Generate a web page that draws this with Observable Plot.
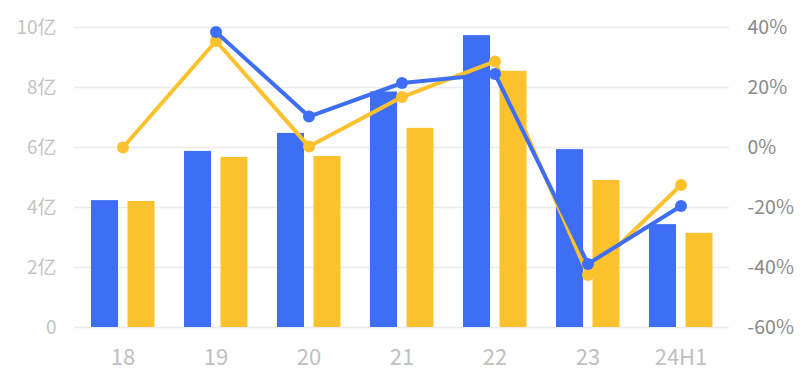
<!DOCTYPE html>
<html>
<head>
<meta charset="utf-8">
<script src="https://cdn.jsdelivr.net/npm/d3@7"></script>
<script src="https://cdn.jsdelivr.net/npm/@observablehq/plot@0.6"></script>
<style>
  html, body { margin: 0; padding: 0; background: #fff; }
  #chart svg { display: block; }
</style>
</head>
<body>
<div id="chart"></div>
<script>
// Periods on the x axis
const periods = ["18", "19", "20", "21", "22", "23", "24H1"];
// Amounts in 亿 (left axis)
const blueAmount = [4.23, 5.87, 6.47, 7.85, 9.73, 5.93, 3.43];
const yellowAmount = [4.20, 5.67, 5.70, 6.64, 8.54, 4.90, 3.14];
// Growth rates in % (right axis)
const blueGrowth = [null, 38.5, 10.3, 21.5, 24.5, -38.8, -19.5];
const yellowGrowth = [0, 35.5, 0.3, 16.8, 28.7, -42.5, -12.5];
// Tick labels
const leftTicks = [0, 2, 4, 6, 8, 10];
const rightTicks = [-60, -40, -20, 0, 20, 40];

const BLUE = "#3e6ef5";
const YELLOW = "#fcc22e";

// Percent axis shares the amount scale: -60% ↔ 0, 40% ↔ 10
const pctToY = p => (p + 60) / 10;

const rows = periods.map((p, i) => ({
  period: p,
  blue: blueAmount[i],
  yellow: yellowAmount[i],
  blueG: blueGrowth[i] == null ? null : pctToY(blueGrowth[i]),
  yellowG: pctToY(yellowGrowth[i])
}));

const chart = Plot.plot({
  width: 802,
  height: 372,
  marginTop: 27,
  marginBottom: 45,
  marginLeft: 74,
  marginRight: 73,
  style: { fontFamily: "'Noto Sans CJK SC', 'Noto Sans', sans-serif", background: "#fff" },
  x: { domain: periods, paddingInner: 0.711, paddingOuter: 0.358, align: 0.5, label: null },
  y: { domain: [0, 10], label: null },
  marks: [
    Plot.ruleY(leftTicks, { stroke: "#ececec", strokeWidth: 1.5 }),
    Plot.axisY(leftTicks, {
      anchor: "left", tickSize: 0, tickPadding: 18, fontSize: 19, label: null,
      color: "#c3c3c3", tickFormat: d => d === 0 ? "0" : `${d}亿`
    }),
    Plot.axisY(rightTicks.map(pctToY), {
      anchor: "right", tickSize: 0, tickPadding: 18, fontSize: 19.5, label: null,
      color: "#8a8a8a", tickFormat: d => `${Math.round(d * 10 - 60)}%`
    }),
    Plot.axisX({
      tickSize: 0, tickPadding: 22, fontSize: 22, color: "#c0c0c0", label: null
    }),
    Plot.barY(rows, { x: "period", y: "blue", fill: BLUE, dx: -18 }),
    Plot.barY(rows, { x: "period", y: "yellow", fill: YELLOW, dx: 18.5 }),
    Plot.lineY(rows, { x: "period", y: "yellowG", stroke: YELLOW, strokeWidth: 4 }),
    Plot.dot(rows, { x: "period", y: "yellowG", r: 6, fill: YELLOW }),
    Plot.lineY(rows.filter(d => d.blueG != null), { x: "period", y: "blueG", stroke: BLUE, strokeWidth: 4 }),
    Plot.dot(rows.filter(d => d.blueG != null), { x: "period", y: "blueG", r: 6, fill: BLUE })
  ]
});

document.getElementById("chart").append(chart);
</script>
</body>
</html>
